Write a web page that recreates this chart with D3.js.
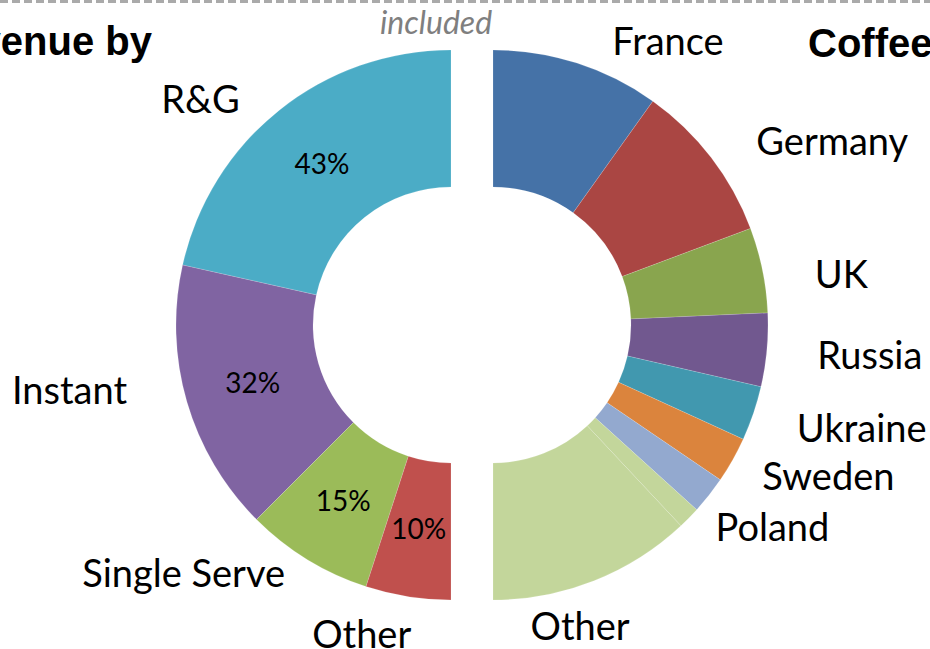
<!DOCTYPE html>
<html>
<head>
<meta charset="utf-8">
<script src="https://cdn.jsdelivr.net/npm/d3@7"></script>
<style>
  body { margin: 0; background: #fff; }
  svg { display: block; }
  .cat { font-family: Lato, 'Noto Sans', sans-serif; font-size: 38px; fill: #000; }
  .pct { font-family: Lato, 'Noto Sans', sans-serif; font-size: 28px; fill: #000; }
  .title { font-family: 'Liberation Sans', Arial, sans-serif; font-weight: bold; font-size: 40px; fill: #000; }
  .note { font-family: Lato, 'Noto Sans', sans-serif; font-style: italic; font-size: 32px; fill: #7f7f7f; }
</style>
</head>
<body>
<svg></svg>
<script>
// revenue split by product type (left half)
var productNames = ['R&G', 'Instant', 'Single Serve', 'Other'];
var productShares = [43, 32, 15, 10];
var productColors = ['#4bacc6', '#8064a2', '#9bbb59', '#c0504d'];

// coffee volume by country (right half)
var countryNames = ['France', 'Germany', 'UK', 'Russia', 'Ukraine', 'Sweden', 'Poland', '', 'Other'];
var countryShares = [19.7, 18.8, 10, 8.6, 6.4, 5.4, 4.4, 2.6, 23.9];
var countryColors = ['#4572a7', '#aa4643', '#89a54e', '#71588f', '#4198af', '#db843d', '#93a9cf', '#c3d69b', '#c3d69b'];

// outside label placement, polar [degrees, radius] from each half's centre
var productLabelPolar = [[-48, 337], [-99.7, 387], [-132.9, 365], [-163.9, 322]];
var countryLabelPolar = [[31.7, 333], [61.5, 386], [81.8, 352], [94.6, 378], [105.7, 383],
                         [114.3, 368], [125.9, 345], null, [163.9, 314]];

var width = 930;
var height = 649;
var svg = d3.select('svg')
  .attr('width', width)
  .attr('height', height);

var cy = 325;
var outerR = 275;
var innerR = 138;

var arc = d3.arc()
  .innerRadius(innerR)
  .outerRadius(outerR);

// dashed rule along the top
svg.append('line')
  .attr('x1', 0).attr('x2', width)
  .attr('y1', 1.5).attr('y2', 1.5)
  .attr('stroke', '#aaaaaa')
  .attr('stroke-width', 3)
  .attr('stroke-dasharray', '8,4');

function drawHalf(cx, names, values, colors, polar, start, end, showPct) {
  var pie = d3.pie()
    .sort(null)
    .startAngle(start)
    .endAngle(end);

  var slices = pie(values);
  var g = svg.append('g')
    .attr('transform', `translate(${cx}, ${cy})`);

  g.selectAll('path')
    .data(slices)
    .enter()
    .append('path')
      .attr('d', arc)
      .attr('fill', (d, i) => colors[i])
      .attr('stroke', 'rgba(255,255,255,0.3)')
      .attr('stroke-width', 0.5);

  if (showPct) {
    g.selectAll('.pct')
      .data(slices)
      .enter()
      .append('text')
        .attr('class', 'pct')
        .attr('text-anchor', 'middle')
        .attr('dy', '0.36em')
        .attr('transform', d => `translate(${arc.centroid(d)})`)
        .text(d => d.value + '%');
  }

  g.selectAll('.cat')
    .data(slices.filter((d, i) => names[i] && polar[i]))
    .enter()
    .append('text')
      .attr('class', 'cat')
      .attr('text-anchor', 'middle')
      .attr('dy', '0.36em')
      .attr('transform', d => {
        var p = polar[d.index];
        return `translate(${d3.pointRadial(p[0] * Math.PI / 180, p[1])})`;
      })
      .text(d => names[d.index]);
}

drawHalf(451, productNames, productShares, productColors, productLabelPolar, 0, -Math.PI, true);
drawHalf(493, countryNames, countryShares, countryColors, countryLabelPolar, 0, Math.PI, false);

svg.append('text')
  .attr('class', 'title')
  .attr('x', 152)
  .attr('y', 55)
  .attr('text-anchor', 'end')
  .text('Revenue by');

svg.append('text')
  .attr('class', 'title')
  .attr('x', 808)
  .attr('y', 57)
  .text('Coffee');

svg.append('text')
  .attr('class', 'note')
  .attr('x', 436)
  .attr('y', 34)
  .attr('text-anchor', 'middle')
  .text('included');
</script>
</body>
</html>
